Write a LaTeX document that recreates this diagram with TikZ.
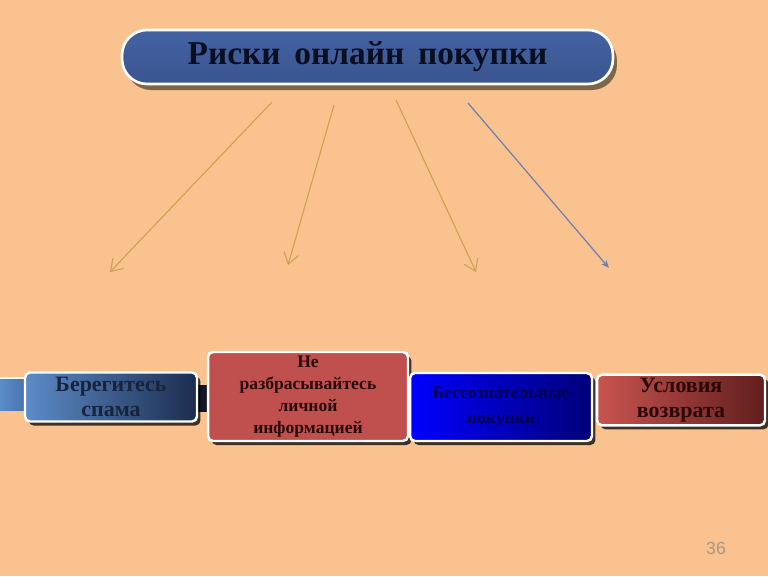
\documentclass[tikz,border=0pt]{standalone}
\usepackage{fontspec}
\setmainfont{Liberation Serif}
\newfontfamily\numfont{Liberation Sans}
\usetikzlibrary{shadows,arrows.meta}
\definecolor{peach}{HTML}{F9C28F}
\definecolor{goldline}{HTML}{C9A24E}
\definecolor{greyblue}{HTML}{6E7FB0}
\definecolor{titletop}{HTML}{4462A2}
\definecolor{titlemid}{HTML}{7399DA}
\definecolor{titlebot}{HTML}{3A5590}
\definecolor{titleshadow}{HTML}{7D6548}
\definecolor{titletext}{HTML}{0A0F20}
\definecolor{spamleft}{HTML}{5C8CC8}
\definecolor{spamright}{HTML}{1C2C4E}
\definecolor{spamtext}{HTML}{18243E}
\definecolor{infofill}{HTML}{C0504D}
\definecolor{infotext}{HTML}{280A0A}
\definecolor{buyleft}{HTML}{0000FF}
\definecolor{buyright}{HTML}{000078}
\definecolor{buytext}{HTML}{000050}
\definecolor{backleft}{HTML}{C85450}
\definecolor{backright}{HTML}{601E1E}
\definecolor{backtext}{HTML}{2A0808}
\definecolor{barleft}{HTML}{5A8CC8}
\definecolor{barright}{HTML}{466EAA}
\definecolor{bardark}{HTML}{101626}
\definecolor{numgrey}{HTML}{AA9682}
\begin{document}
\begin{tikzpicture}[x=0.02cm,y=-0.02cm]
        \tikzstyle{title}=[rounded corners=0.5cm,draw=white,line width=1.5pt,top color=titletop,middle color=titlemid,bottom color=titlebot,minimum width=9.82cm,minimum height=1.08cm,drop shadow={shadow xshift=0.08cm,shadow yshift=-0.12cm,fill=titleshadow,opacity=1},font=\fontsize{19}{23}\selectfont\bfseries,text=titletext]
        \tikzstyle{risk}=[rounded corners=0.1cm,draw=white,line width=1.4pt,align=center,inner sep=2pt,drop shadow={shadow xshift=0.07cm,shadow yshift=-0.08cm,fill=black,opacity=0.75},font=\bfseries]
        \tikzstyle{edge}=[draw=goldline,line width=0.6pt,-{Straight Barb[length=2.2mm,width=3mm]}]
       \useasboundingbox[fill=peach] (0,0) rectangle (768,576);
       \begin{scope}
         % bar behind the boxes
         \fill[left color=barleft,right color=barright] (0,378) rectangle (30,410);
         \draw[white,line width=0.8pt] (0,378) -- (30,378);
         \fill[bardark] (190,385) rectangle (215,412);
         \node [title] (t) at (367.5,57) {Риски\, онлайн\, покупки};
         \node [risk,left color=spamleft,right color=spamright,minimum width=3.44cm,minimum height=0.98cm,font=\fontsize{12.5}{14}\selectfont\bfseries,text=spamtext] (b1) at (111,397) {Берегитесь\\спама};
         \node [risk,fill=infofill,minimum width=4cm,minimum height=1.78cm,font=\fontsize{10}{12.5}\selectfont\bfseries,text=infotext] (b2) at (308,396.5) {Не\\разбрасывайтесь\\личной\\информацией};
         \node [risk,left color=buyleft,right color=buyright,minimum width=3.64cm,minimum height=1.36cm,font=\fontsize{10}{14}\selectfont\bfseries,text=buytext] (b3) at (501,407) {Бессознательные\\покупки};
         \node [risk,left color=backleft,right color=backright,minimum width=3.36cm,minimum height=0.96cm,font=\fontsize{12.5}{14}\selectfont\bfseries,text=backtext] (b4) at (681,400) {Условия\\возврата};
         % arrows from the title
         \coordinate (s1) at (272,102);
         \coordinate (e1) at (110,272);
         \coordinate (s2) at (334,105);
         \coordinate (e2) at (288,265);
         \coordinate (s3) at (396,100);
         \coordinate (e3) at (476,272);
         \coordinate (s4) at (468,103);
         \coordinate (e4) at (609,268);
         \path[edge] (s1) -- (e1);
         \path[edge] (s2) -- (e2);
         \path[edge] (s3) -- (e3);
         \path[draw=greyblue,line width=0.7pt,-{Stealth[length=1.6mm,width=1.3mm]}] (s4) -- (e4);
         \node [font=\numfont\fontsize{10}{12}\selectfont,text=numgrey] (num) at (716,548) {36};
        \end{scope}
      \end{tikzpicture}
\end{document}
